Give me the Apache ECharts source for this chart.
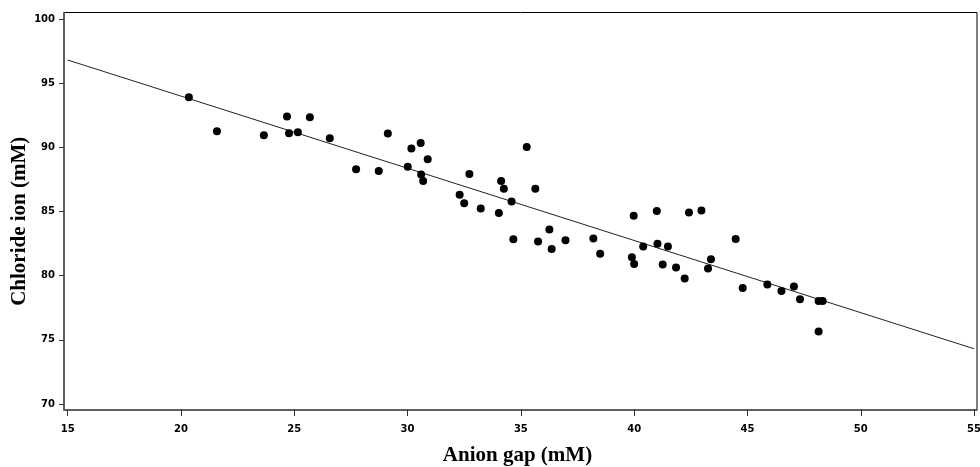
<!DOCTYPE html>
<html>
<head>
<meta charset="utf-8">
<script src="https://cdn.jsdelivr.net/npm/echarts@6/dist/echarts.min.js"></script>
<style>html,body{margin:0;padding:0;background:#fff;}#c{width:980px;height:467px;}</style>
</head>
<body>
<div id="c"></div>
<script>
const anionGap = [20.35,21.59,23.66,24.68,24.77,25.16,25.69,26.57,29.13,27.73,28.73,30.17,30.58,30.89,30.01,30.6,30.69,32.73,32.3,32.5,33.23,34.03,34.13,34.25,34.59,35.26,35.64,34.67,35.76,36.36,36.26,36.97,38.2,38.5,39.98,39.9,40.0,40.4,41.0,41.03,42.42,42.97,44.48,41.49,41.26,41.85,42.23,43.39,43.26,44.79,45.88,46.5,47.05,47.32,48.14,48.32,48.14];
const chloride = [93.9,91.25,90.94,92.4,91.1,91.17,92.34,90.7,91.07,88.28,88.15,89.9,90.34,89.06,88.49,87.87,87.37,87.92,86.3,85.63,85.23,84.87,87.37,86.77,85.78,90.02,86.77,82.84,82.66,82.08,83.59,82.76,82.89,81.7,84.66,81.43,80.91,82.27,85.03,82.48,84.92,85.08,82.86,82.27,80.86,80.63,79.77,81.27,80.55,79.04,79.3,78.8,79.16,78.16,78.02,78.02,75.65];
const fitX = [15, 55];
const fitY = [96.8, 74.3];
const xTicks = [15,20,25,30,35,40,45,50,55];
const yTicks = [70,75,80,85,90,95,100];

const chart = echarts.init(document.getElementById('c'), null, {renderer:'canvas'});
const tickFont = {fontFamily:'DejaVu Sans', fontWeight:'bold', fontSize:10, color:'#000'};
chart.setOption({
  animation:false,
  backgroundColor:'#fff',
  grid:{left:64, top:12.5, right:3, bottom:57, show:true, borderColor:'#000', borderWidth:1, containLabel:false, outerBoundsMode:'none'},
  xAxis:{
    type:'value', min:14.84, max:55.13,
    name:'Anion gap (mM)', nameLocation:'middle', nameGap:35, nameMoveOverlap:false,
    nameTextStyle:{fontFamily:'Liberation Serif', fontWeight:'bold', fontSize:21, color:'#000', padding:[0,6,0,0]},
    axisLine:{show:true, onZero:false, lineStyle:{color:'#555', width:1.5}},
    axisTick:{show:true, length:6, customValues:xTicks, lineStyle:{color:'#333'}},
    axisLabel:Object.assign({margin:14, customValues:xTicks}, tickFont),
    splitLine:{show:false}
  },
  yAxis:{
    type:'value', min:69.53, max:100.5,
    name:'Chloride ion (mM)', nameLocation:'middle', nameGap:34, nameRotate:90, nameMoveOverlap:false,
    nameTextStyle:{fontFamily:'Liberation Serif', fontWeight:'bold', fontSize:21, color:'#000', padding:[0,20,0,0]},
    axisLine:{show:true, onZero:false, lineStyle:{color:'#555', width:1.5}},
    axisTick:{show:true, length:5, customValues:yTicks, lineStyle:{color:'#333'}},
    axisLabel:Object.assign({margin:9, customValues:yTicks}, tickFont),
    splitLine:{show:false}
  },
  series:[
    {type:'line', data:fitX.map((x,i)=>[x,fitY[i]]), symbol:'none', lineStyle:{color:'#222', width:1}, silent:true, z:1},
    {type:'scatter', data:anionGap.map((x,i)=>[x,chloride[i]]), symbol:'circle', symbolSize:8, itemStyle:{color:'#000', opacity:1}, z:2}
  ]
});
</script>
</body>
</html>
